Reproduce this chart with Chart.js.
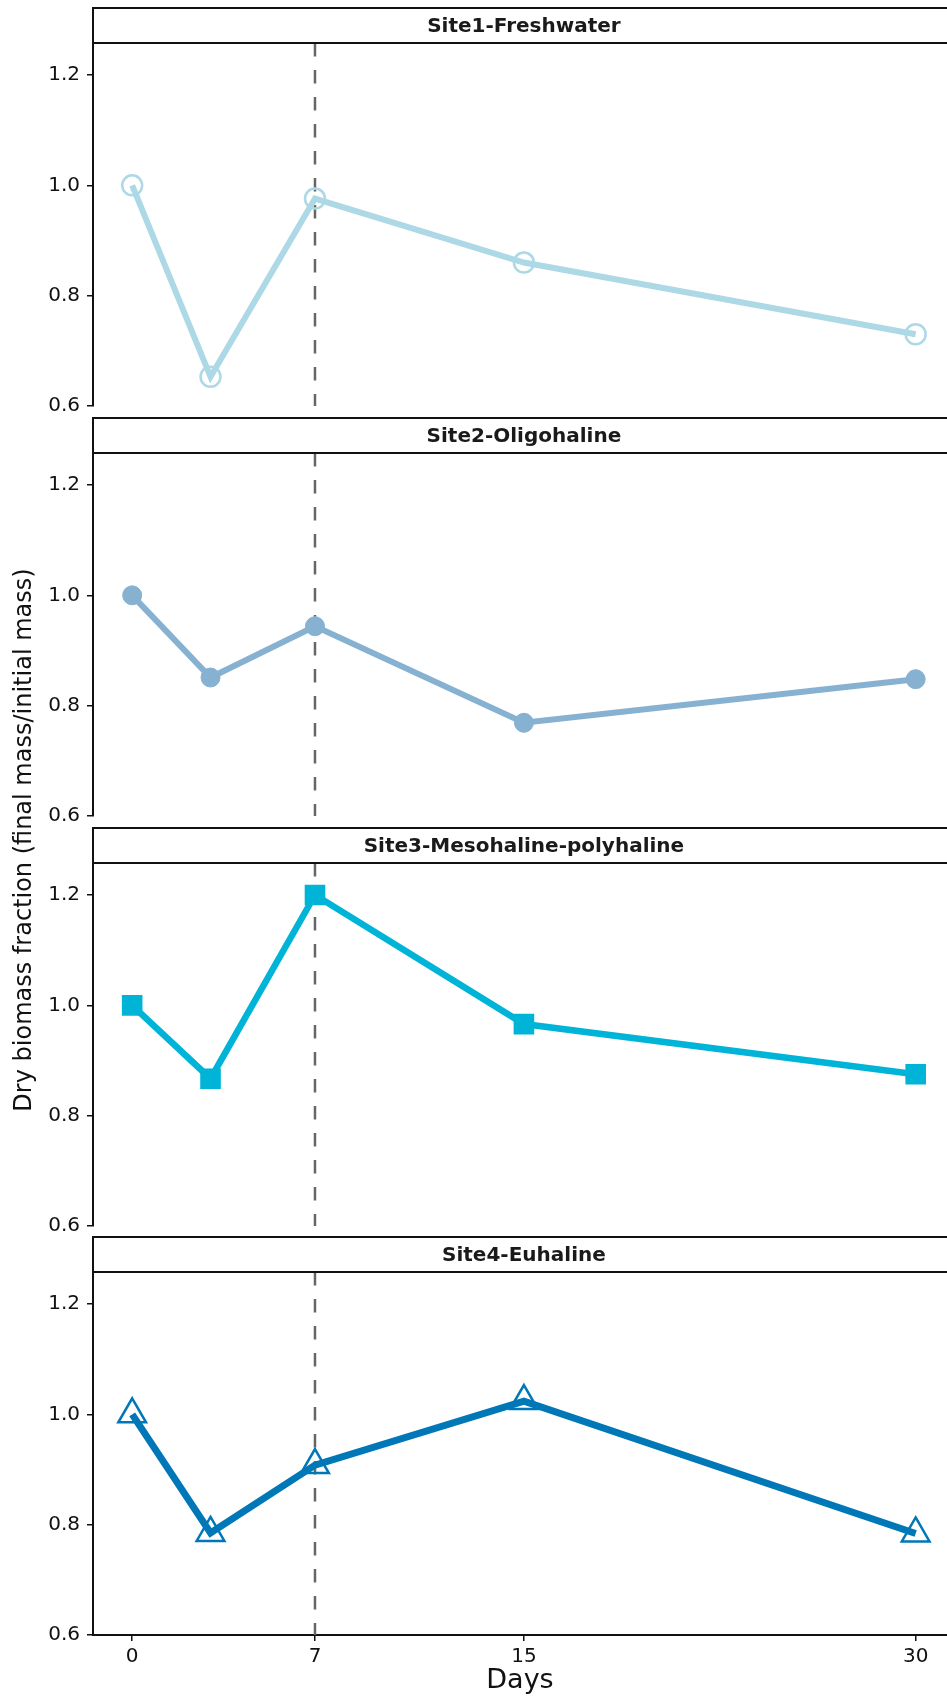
<!DOCTYPE html>
<html>
<head>
<meta charset="utf-8">
<script src="https://cdn.jsdelivr.net/npm/chart.js@4.4.1/dist/chart.umd.min.js"></script>
<style>
  html, body { margin: 0; padding: 0; background: #ffffff; }
  #wrap { position: relative; width: 947px; height: 1698px; overflow: hidden; background: #ffffff; }
  #wrap canvas { position: absolute; left: 0; top: 0; }
</style>
</head>
<body>
<div id="wrap">
  <canvas id="c0" width="947" height="1698"></canvas>
  <canvas id="c1" width="947" height="1698"></canvas>
  <canvas id="c2" width="947" height="1698"></canvas>
  <canvas id="c3" width="947" height="1698"></canvas>
</div>
<script>
// ---------------- data ----------------
const days = [0, 3, 7, 15, 30];
const siteNames = ['Site1-Freshwater', 'Site2-Oligohaline', 'Site3-Mesohaline-polyhaline', 'Site4-Euhaline'];
const site1 = [1.000, 0.653, 0.976, 0.860, 0.730];
const site2 = [1.000, 0.851, 0.944, 0.769, 0.848];
const site3 = [1.000, 0.867, 1.200, 0.966, 0.875];
const site4 = [1.000, 0.785, 0.908, 1.024, 0.784];
const yTicks = [0.6, 0.8, 1.0, 1.2];
const xTicks = [0, 7, 15, 30];
const refDay = 7;
const xLabel = 'Days';
const yLabel = 'Dry biomass fraction (final mass/initial mass)';

// ---------------- layout & styles ----------------
const W = 947, H = 1698;
const panelOffsets = [0, 410, 820, 1229];
const STRIP_H = 35, PLOT_TOP = 43, PLOT_BOTTOM = 406, AXIS_LEFT = 93;
const X_MIN = -1.5, X_MAX = 31.2, X_FULL_MAX = 31.5;
const Y_MIN = 0.6, Y_MAX = 1.258;
const FONT = 'DejaVu Sans';
const INK = '#111111';

const seriesList = [site1, site2, site3, site4];
const styles = [
  { color: '#ADD8E6', lw: 6,   shape: 'circle',   r: 10,   bw: 2.5, fill: 'rgba(255,255,255,0)' },
  { color: '#86B1D1', lw: 6,   shape: 'circle',   r: 9.5,  bw: 1,   fill: '#86B1D1' },
  { color: '#00B4D8', lw: 6.5, shape: 'rect',     r: 13.5, bw: 1.5, fill: '#00B4D8' },
  { color: '#0077B6', lw: 7,   shape: 'triangle', r: 16,   bw: 2.5, fill: 'rgba(255,255,255,0)' }
];

Chart.defaults.font.family = FONT;

const stripPlugin = {
  id: 'strip',
  afterDraw(chart, args, opts) {
    const { ctx, chartArea } = chart;
    const xs = chart.scales.x;
    const top = chartArea.top - STRIP_H;
    ctx.save();
    ctx.fillStyle = '#ffffff';
    ctx.strokeStyle = INK;
    ctx.lineWidth = 2;
    ctx.fillRect(chartArea.left, top, W + 20 - chartArea.left, STRIP_H);
    ctx.strokeRect(chartArea.left, top, W + 20 - chartArea.left, STRIP_H);
    ctx.font = 'bold 20px "' + FONT + '"';
    ctx.fillStyle = '#1a1a1a';
    ctx.textAlign = 'center';
    ctx.textBaseline = 'middle';
    const cx = (xs.getPixelForValue(X_MIN) + xs.getPixelForValue(X_FULL_MAX)) / 2;
    ctx.fillText(opts.text, cx, top + STRIP_H / 2 + 1);
    ctx.restore();
  }
};

const yTitlePlugin = {
  id: 'ytitle',
  afterDraw(chart) {
    const ctx = chart.ctx;
    ctx.save();
    ctx.translate(25, 840);
    ctx.rotate(-Math.PI / 2);
    ctx.font = '24px "' + FONT + '"';
    ctx.fillStyle = INK;
    ctx.textAlign = 'center';
    ctx.textBaseline = 'middle';
    ctx.fillText(yLabel, 0, 0);
    ctx.restore();
  }
};

seriesList.forEach((series, i) => {
  const off = panelOffsets[i];
  const isLast = i === seriesList.length - 1;
  const st = styles[i];
  const plugins = [stripPlugin];
  if (i === 0) plugins.push(yTitlePlugin);

  new Chart(document.getElementById('c' + i), {
    type: 'line',
    data: {
      datasets: [
        {
          label: siteNames[i],
          data: days.map((d, k) => ({ x: d, y: series[k] })),
          borderColor: st.color,
          borderWidth: st.lw,
          pointStyle: st.shape,
          pointRadius: st.r,
          pointBorderWidth: st.bw,
          pointBorderColor: st.color,
          pointBackgroundColor: st.fill,
          tension: 0,
          clip: false,
          order: 1
        },
        {
          label: 'ref',
          data: [{ x: refDay, y: Y_MAX }, { x: refDay, y: Y_MIN }],
          borderColor: '#666666',
          borderWidth: 2.5,
          borderDash: [13.5, 13.5],
          pointRadius: 0,
          order: 2
        }
      ]
    },
    options: {
      responsive: false,
      animation: false,
      events: [],
      layout: {
        autoPadding: false,
        padding: {
          top: off + PLOT_TOP,
          bottom: isLast ? 0 : H - (off + PLOT_BOTTOM),
          left: 0,
          right: 0
        }
      },
      plugins: {
        legend: { display: false },
        tooltip: { enabled: false },
        strip: { text: siteNames[i] }
      },
      scales: {
        x: {
          type: 'linear',
          min: X_MIN,
          max: X_MAX,
          display: isLast,
          afterBuildTicks: s => { s.ticks = xTicks.map(v => ({ value: v })); },
          afterFit: s => {
            if (isLast) s.height = H - (off + PLOT_BOTTOM);
            s.paddingLeft = 0; s.paddingRight = 0;
          },
          grid: { display: true, drawOnChartArea: false, drawTicks: true, tickLength: 6, color: INK, lineWidth: 1.5 },
          border: { display: true, color: INK, width: 2 },
          ticks: {
            font: { family: FONT, size: 20 },
            color: INK,
            padding: 4,
            maxRotation: 0,
            autoSkip: false,
            callback: v => String(v)
          },
          title: {
            display: true,
            text: xLabel,
            font: { family: FONT, size: 27 },
            color: INK,
            padding: { top: 0, bottom: 1 }
          }
        },
        y: {
          type: 'linear',
          min: Y_MIN,
          max: Y_MAX,
          afterBuildTicks: s => { s.ticks = yTicks.map(v => ({ value: v })); },
          afterFit: s => { s.width = AXIS_LEFT; s.paddingTop = 0; s.paddingBottom = 0; },
          grid: { display: true, drawOnChartArea: false, drawTicks: true, tickLength: 6, color: INK, lineWidth: 1.5 },
          border: { display: true, color: INK, width: 2 },
          ticks: {
            font: { family: FONT, size: 20 },
            color: INK,
            padding: 7,
            callback: v => Number(v).toFixed(1)
          }
        }
      }
    },
    plugins: plugins
  });
});
</script>
</body>
</html>
